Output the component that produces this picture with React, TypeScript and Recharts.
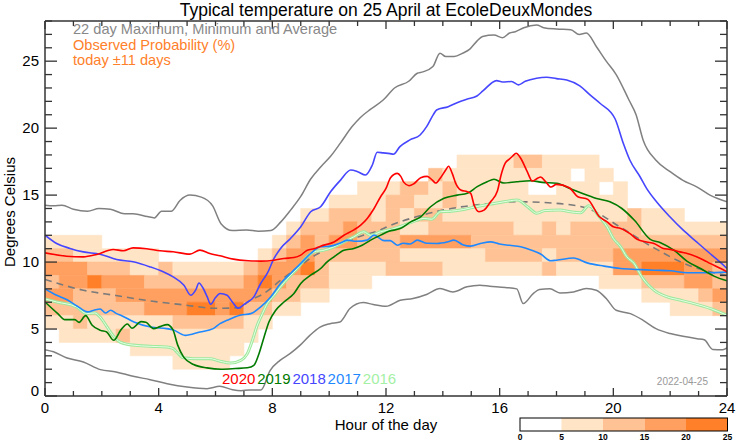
import React from "react";
import { ComposedChart, Line, XAxis, YAxis, ReferenceArea } from "recharts";

const FONT = "'Liberation Sans', Arial, Helvetica, sans-serif";
const AXIS_COLOR = "#333";

// plot frame in page pixels (margins + axis sizes below give the same box)
const PLOT = { left: 45, right: 727, top: 21, bottom: 396 };

// tick positions
const hourTicks = Array.from({ length: 25 }, (_, i) => i);
const degreeTicks = Array.from({ length: 29 }, (_, i) => i);

// probability heatmap: one string per 1 degree row (lower edge in heatBase), 48 half-hour columns, level 0-4
const heatLevelColors = ["#ffffff", "#ffe4c6", "#ffc294", "#ffa060", "#ff8028"];
const heatBase = [17, 16, 15, 14, 13, 12, 11, 10, 9, 8, 7, 6, 5, 4, 3, 2];
const heatRows = [
  "000000000000000000000000000001111221111000000000",
  "000000000000000000000000000211111111101100000000",
  "000000000000000000000011122121111100111010000000",
  "000000000000000000001111221121111111111110000000",
  "000000000000000000112221212211111111111112111000",
  "000000000000000001222322211222222112122222111111",
  "111100000000000012323322233333222222222222222222",
  "221111110000000123322222211111122221222233333333",
  "333222112111112333421111222211111112111133444332",
  "233433322222223432221110000000000000000111222332",
  "332223333333333322110000000000000000000000111123",
  "222222233344342211000000000000000000000000001112",
  "112111111222221100000000000000000000000000000000",
  "011112111111111000000000000000000000000000000000",
  "000000111111110000000000000000000000000000000000",
  "000000000111100000000000000000000000000000000000",
];
const heatStep = 24 / 48;

// 22 day maximum
const maxHours = [0, 0.3, 0.6, 1, 1.5, 1.9, 2.3, 2.8, 3.1, 3.6, 3.85, 4.1, 4.45, 4.75, 5.1, 5.5, 5.9, 6.2, 6.6, 7.1, 7.5, 7.95, 8.3, 8.65, 9, 9.35, 9.7, 10.05, 10.4, 10.8, 11.1, 11.45, 11.9, 12.3, 12.8, 13.1, 13.3, 13.65, 13.9, 14.1, 14.4, 14.7, 14.95, 15.2, 15.4, 15.8, 16.1, 16.35, 16.55, 16.85, 17.3, 17.55, 18, 18.5, 18.8, 19.05, 19.4, 19.75, 20.1, 20.55, 20.8, 21.05, 21.5, 22, 22.45, 22.95, 23.4, 24];
const maxTemps = [14.25, 14.2, 14.25, 13.95, 13.8, 14.0, 13.95, 13.6, 13.6, 13.4, 13.3, 13.8, 13.8, 14.6, 15.0, 14.85, 14.2, 12.85, 12.35, 12.4, 12.3, 12.35, 13.0, 13.9, 14.9, 16.2, 17.1, 17.9, 18.9, 20.1, 20.8, 21.4, 22.1, 23.0, 23.5, 24.1, 24.2, 24.6, 25.6, 25.35, 25.35, 25.6, 25.9, 26.5, 26.85, 26.95, 26.75, 27.1, 27.2, 27.5, 27.7, 27.5, 27.4, 27.35, 27.0, 27.1, 26.1, 25.0, 24.0, 22.1, 21.0, 19.1, 17.6, 16.75, 16.1, 15.6, 15.0, 14.5];

// 22 day minimum
const minHours = [0, 0.3, 0.75, 1.35, 1.95, 2.5, 3.1, 3.7, 4.3, 5, 5.7, 6.15, 6.6, 6.9, 7.2, 7.6, 7.92, 8.27, 8.62, 8.97, 9.32, 9.68, 10.03, 10.38, 10.73, 11.2, 11.55, 12, 12.5, 12.95, 13.45, 13.9, 14.35, 14.85, 15.3, 15.65, 16.2, 16.6, 16.83, 17.18, 17.4, 17.77, 18.12, 18.6, 19.05, 19.4, 19.75, 20.1, 20.6, 21.05, 21.5, 22, 22.45, 22.95, 23.2, 23.5, 23.85, 24];
const minTemps = [3.46, 3.3, 2.86, 2.54, 1.97, 1.8, 1.47, 1.22, 0.92, 0.67, 0.55, 0.72, 0.47, 0.4, 0.45, 0.45, 1.9, 2.66, 3.16, 3.78, 4.53, 5.15, 5.4, 5.53, 6.53, 6.98, 6.83, 6.7, 7.15, 7.28, 7.6, 8.02, 7.77, 8.15, 8.27, 8.2, 8.1, 8.0, 6.9, 7.65, 7.95, 8.0, 7.7, 7.77, 8.02, 7.9, 7.28, 6.4, 6.15, 5.65, 5.03, 4.66, 4.46, 4.28, 4.2, 3.48, 3.46, 3.6];

// 22 day average
const avgHours = [0, 1.35, 2.5, 3.7, 4.9, 6, 6.9, 7.12, 7.7, 8.3, 8.9, 9.5, 10.05, 10.65, 11.2, 11.8, 12, 13.1, 14.3, 15.45, 16.6, 17.9, 19.1, 20.25, 21.4, 22.6, 24];
const avgTemps = [8.7, 7.9, 7.5, 7.1, 6.8, 6.55, 6.6, 7.0, 7.65, 8.65, 9.6, 10.5, 11.1, 11.6, 12.0, 12.4, 12.6, 13.4, 14.0, 14.33, 14.5, 14.4, 14.0, 12.6, 11.1, 9.8, 9.0];

// 2020
const y2020Hours = [0, 0.76, 1.35, 1.82, 2.4, 2.76, 3.1, 3.58, 4.05, 4.51, 5.1, 5.45, 5.8, 6.16, 6.63, 7.15, 7.6, 8.06, 8.41, 8.76, 9, 9.23, 9.47, 9.7, 10.17, 10.52, 10.87, 11.11, 11.34, 11.58, 11.81, 12, 12.16, 12.4, 12.52, 12.63, 12.81, 12.98, 13.22, 13.45, 13.63, 13.75, 13.92, 14.1, 14.2, 14.33, 14.45, 14.63, 14.86, 14.98, 15.1, 15.27, 15.45, 15.68, 15.92, 16.05, 16.2, 16.35, 16.45, 16.58, 16.74, 16.97, 17.15, 17.35, 17.44, 17.62, 17.8, 18, 18.45, 18.75, 19.1, 19.5, 19.78, 20, 20.26, 20.6, 20.84, 21.17, 21.43, 21.76, 22, 22.34, 22.6, 22.93, 23.19, 23.4, 23.78, 24];
const y2020Temps = [10.69, 10.44, 10.39, 10.57, 10.94, 10.84, 11.06, 11.0, 10.84, 10.77, 10.59, 10.89, 10.64, 10.47, 10.22, 10.1, 10.07, 10.14, 10.27, 10.34, 10.52, 10.89, 11.0, 11.19, 11.5, 12.0, 12.4, 12.76, 13.26, 14.0, 14.88, 15.5, 16.3, 16.62, 16.4, 15.95, 15.7, 15.85, 16.3, 16.4, 16.12, 15.9, 16.3, 16.87, 17.15, 16.62, 15.9, 15.38, 15.25, 15.13, 14.26, 13.76, 13.88, 14.5, 15.3, 16.5, 17.4, 17.7, 17.9, 18.12, 17.75, 16.75, 16.05, 16.28, 16.35, 16.0, 15.6, 15.8, 15.55, 14.88, 14.68, 13.4, 13.0, 12.63, 12.51, 12.1, 11.7, 11.5, 11.39, 11.02, 10.95, 10.76, 10.64, 10.39, 10.14, 9.9, 9.52, 9.27];

// 2019
const y2019Hours = [0, 0.45, 0.7, 1.05, 1.2, 1.43, 1.66, 1.95, 2.17, 2.42, 2.66, 2.9, 3.06, 3.38, 3.55, 3.82, 4.05, 4.3, 4.5, 4.67, 4.88, 5.23, 5.7, 6.2, 6.7, 7.12, 7.35, 7.53, 7.71, 7.88, 8.12, 8.41, 8.76, 9, 9.35, 9.7, 9.93, 10.17, 10.52, 10.87, 11.16, 11.46, 11.81, 12.1, 12.5, 12.87, 13.22, 13.57, 14.04, 14.51, 14.86, 15.21, 15.56, 15.8, 16.15, 16.6, 17.09, 17.5, 18, 18.47, 18.94, 19.41, 19.88, 20.3, 20.75, 21.3, 21.66, 22.13, 22.6, 23.07, 23.54, 24];
const y2019Temps = [7.02, 6.15, 5.7, 5.7, 5.5, 6.0, 5.28, 4.9, 4.78, 4.16, 4.9, 5.38, 5.06, 5.55, 5.5, 5.03, 5.18, 5.33, 4.95, 3.8, 2.9, 2.35, 2.1, 2.0, 2.05, 2.11, 2.29, 3.16, 4.41, 5.53, 6.4, 7.02, 7.65, 8.4, 9.02, 9.52, 10.02, 10.39, 10.89, 11.02, 11.26, 11.64, 12.01, 12.3, 12.5, 13.0, 13.38, 14.13, 14.76, 15.0, 15.13, 15.63, 16.0, 16.18, 15.9, 16.0, 16.07, 15.95, 15.88, 15.5, 15.1, 14.75, 14.5, 14.0, 13.1, 11.7, 11.45, 10.89, 10.05, 9.52, 8.95, 8.6];

// 2018
const y2018Hours = [0, 0.41, 0.88, 1.35, 1.94, 2.52, 3.1, 3.7, 4.16, 4.51, 4.89, 5.13, 5.3, 5.42, 5.55, 5.71, 5.83, 6, 6.16, 6.41, 6.6, 6.8, 7.04, 7.35, 7.59, 7.82, 8.06, 8.29, 8.64, 9, 9.35, 9.7, 10.05, 10.4, 10.76, 11, 11.28, 11.52, 11.69, 11.9, 12.14, 12.26, 12.49, 12.84, 13.2, 13.43, 13.66, 13.78, 14.19, 14.5, 14.84, 15.2, 15.42, 15.89, 16.1, 16.42, 16.66, 16.9, 17.3, 17.65, 18, 18.36, 18.82, 19.18, 19.53, 20.06, 20.35, 20.58, 20.94, 21.17, 21.52, 21.99, 22.46, 22.93, 23.4, 23.75, 24];
const y2018Temps = [12.01, 11.39, 11.02, 10.76, 10.59, 10.19, 10.02, 9.64, 9.27, 8.89, 8.27, 7.52, 7.9, 8.44, 8.1, 7.4, 6.85, 7.35, 7.65, 7.52, 7.0, 6.55, 6.9, 7.4, 8.4, 9.15, 10.27, 11.02, 11.76, 12.63, 13.76, 14.13, 15.25, 16.12, 16.87, 16.75, 16.5, 17.25, 18.2, 18.15, 18.1, 18.05, 18.62, 19.12, 19.49, 20.11, 20.99, 21.36, 21.6, 21.9, 22.16, 22.4, 22.8, 23.55, 23.45, 23.48, 23.23, 23.5, 23.73, 23.8, 23.7, 23.6, 23.16, 22.48, 21.86, 20.7, 18.87, 17.62, 16.37, 15.5, 14.5, 13.38, 12.38, 11.51, 10.64, 10.02, 9.52];

// 2017
const y2017Hours = [0, 0.41, 0.76, 1.14, 1.5, 1.72, 1.94, 2.13, 2.31, 2.52, 2.7, 3.13, 3.72, 4.28, 4.5, 4.93, 5.45, 5.92, 6.16, 6.41, 6.86, 7.24, 7.59, 7.94, 8.29, 8.64, 9, 9.35, 9.7, 10.05, 10.4, 10.64, 10.95, 11.34, 11.58, 11.93, 12.15, 12.4, 12.6, 12.85, 13.1, 13.45, 13.8, 14.15, 14.39, 14.7, 14.98, 15.35, 15.68, 16, 16.35, 16.74, 17.1, 17.44, 17.8, 18, 18.6, 19.08, 19.67, 20.26, 20.85, 21.43, 22, 22.6, 23.3, 24];
const y2017Temps = [8.0, 7.52, 7.2, 6.7, 6.28, 6.4, 6.5, 6.2, 6.4, 6.15, 6.0, 5.53, 5.15, 5.03, 4.95, 4.53, 4.78, 5.03, 5.4, 5.65, 6.03, 6.15, 6.65, 7.4, 8.4, 9.15, 9.9, 10.64, 11.14, 11.19, 11.43, 11.64, 11.55, 11.64, 12.01, 11.6, 11.6, 11.26, 11.4, 11.35, 11.64, 11.4, 11.39, 11.5, 11.64, 11.3, 11.19, 11.4, 11.51, 11.35, 11.25, 11.14, 10.9, 10.6, 10.1, 10.14, 10.3, 9.94, 9.7, 9.52, 9.45, 9.39, 9.35, 9.2, 9.2, 9.25];

// 2016
const y2016Hours = [0, 0.41, 1.11, 1.47, 1.75, 1.94, 2.17, 2.4, 2.64, 3.1, 3.7, 4.28, 4.5, 4.63, 4.87, 5.22, 5.8, 6.16, 6.53, 6.89, 7.12, 7.3, 7.47, 7.65, 7.82, 8.06, 8.29, 8.59, 8.88, 9.17, 9.47, 9.82, 10.17, 10.52, 10.87, 11.22, 11.45, 11.81, 12.2, 12.87, 13.34, 13.6, 13.92, 14.3, 14.74, 15.2, 15.68, 16.15, 16.62, 17, 17.3, 17.6, 18.12, 18.5, 18.85, 19.13, 19.5, 19.78, 20, 20.26, 20.47, 20.73, 21, 21.43, 21.9, 22.37, 22.84, 23.42, 24];
const y2016Temps = [7.25, 7.02, 6.65, 6.15, 6.2, 5.9, 5.2, 4.5, 4.03, 3.8, 3.71, 3.66, 3.55, 3.3, 2.85, 2.79, 2.79, 2.6, 2.46, 2.66, 3.16, 4.16, 5.28, 6.15, 6.9, 7.52, 8.15, 8.89, 9.52, 10.27, 10.76, 10.89, 11.14, 11.51, 11.89, 12.26, 12.0, 12.26, 12.45, 12.94, 13.26, 13.2, 13.76, 13.8, 13.93, 14.15, 14.33, 14.5, 14.63, 14.1, 13.65, 13.85, 13.88, 13.75, 13.68, 14.2, 13.4, 12.63, 11.76, 11.14, 10.4, 9.9, 8.9, 7.9, 7.4, 7.15, 6.9, 6.53, 6.03];

const yearLabels = ["2020", "2019", "2018", "2017", "2016"];
const yearColors = ["#ff0000", "#007a00", "#4646ff", "#1e88ff", "#a4f0a4"];
const colorbarTicks = [0, 5, 10, 15, 20, 25];

function toPoints(hours: number[], temps: number[]) {
  return hours.map((h, i) => ({ h, v: temps[i] }));
}

function buildHeatCells() {
  const cells: { x1: number; x2: number; y1: number; y2: number; color: string }[] = [];
  heatRows.forEach((row, r) => {
    const low = heatBase[r];
    let c = 0;
    while (c < row.length) {
      const lvl = row[c];
      let e = c + 1;
      while (e < row.length && row[e] === lvl) e++;
      if (lvl !== "0") {
        cells.push({ x1: c * heatStep, x2: e * heatStep, y1: low, y2: low + 1, color: heatLevelColors[Number(lvl)] });
      }
      c = e;
    }
  });
  return cells;
}

const BottomLabel = (p: any) => {
  const v = p.payload.value;
  if (v % 4 !== 0) return <g />;
  return (
    <text x={p.x} y={p.y + 17} textAnchor="middle" fontSize={15} fontFamily={FONT} fill="#000">
      {v}
    </text>
  );
};

const LeftLabel = (p: any) => {
  const v = p.payload.value;
  if (v % 5 !== 0) return <g />;
  return (
    <text x={p.x - 6} y={v === 0 ? p.y : p.y + 5} textAnchor="end" fontSize={15} fontFamily={FONT} fill="#000">
      {v}
    </text>
  );
};

// inward tick marks on all four sides of the frame
function FrameTicks() {
  const w = PLOT.right - PLOT.left;
  const h = PLOT.bottom - PLOT.top;
  const marks: React.ReactNode[] = [];
  hourTicks.forEach((t) => {
    const x = PLOT.left + (t / 24) * w;
    const len = t % 4 === 0 ? 8 : 5;
    marks.push(<line key={"b" + t} x1={x} x2={x} y1={PLOT.bottom} y2={PLOT.bottom - len} />);
    marks.push(<line key={"t" + t} x1={x} x2={x} y1={PLOT.top} y2={PLOT.top + len} />);
  });
  degreeTicks.forEach((d) => {
    const y = PLOT.bottom - (d / 28) * h;
    const len = d % 5 === 0 ? 12 : 7;
    marks.push(<line key={"l" + d} x1={PLOT.left} x2={PLOT.left + len} y1={y} y2={y} />);
    marks.push(<line key={"r" + d} x1={PLOT.right} x2={PLOT.right - len} y1={y} y2={y} />);
  });
  return (
    <g stroke={AXIS_COLOR} strokeWidth={1.3}>
      {marks}
    </g>
  );
}

export default function App() {
  const cells = buildHeatCells();
  const axisLine = { stroke: AXIS_COLOR, strokeWidth: 1.5 };
  const lineProps = { type: "monotone" as const, dataKey: "v", dot: false, isAnimationActive: false, activeDot: false };

  return (
    <div style={{ position: "absolute", left: 0, top: 0, width: 742, height: 445, background: "#fff" }}>
      <ComposedChart width={742} height={445} margin={{ top: 20, right: 14, bottom: 19, left: 5 }}>
        <XAxis type="number" dataKey="h" domain={[0, 24]} ticks={hourTicks} interval={0} height={30}
          tickSize={0} tickMargin={0} tick={BottomLabel} tickLine={false} axisLine={axisLine} allowDataOverflow />
        <XAxis xAxisId="top" orientation="top" type="number" dataKey="h" domain={[0, 24]} ticks={hourTicks} interval={0}
          height={1} tick={false} tickLine={false} axisLine={axisLine} allowDataOverflow />
        <YAxis type="number" domain={[0, 28]} ticks={degreeTicks} interval={0} width={40}
          tickSize={0} tickMargin={0} tick={LeftLabel} tickLine={false} axisLine={axisLine} allowDataOverflow />
        <YAxis yAxisId="right" orientation="right" type="number" domain={[0, 28]} ticks={degreeTicks} interval={0} width={1}
          tick={false} tickLine={false} axisLine={axisLine} allowDataOverflow />

        {cells.map((c, i) => (
          <ReferenceArea key={"cell" + i} x1={c.x1} x2={c.x2} y1={c.y1} y2={c.y2}
            fill={c.color} fillOpacity={1} stroke={c.color} strokeWidth={0.6} ifOverflow="visible" />
        ))}

        <Line {...lineProps} data={toPoints(maxHours, maxTemps)} stroke="#808080" strokeWidth={1.5} />
        <Line {...lineProps} data={toPoints(minHours, minTemps)} stroke="#808080" strokeWidth={1.5} />
        <Line {...lineProps} data={toPoints(avgHours, avgTemps)} stroke="#7a7a7a" strokeWidth={1.6} strokeDasharray="7 5" />
        <Line {...lineProps} data={toPoints(y2016Hours, y2016Temps)} stroke="#9ee89e" strokeWidth={3} />
        <Line {...lineProps} data={toPoints(y2016Hours, y2016Temps)} stroke="#e4ffe4" strokeWidth={1} />
        <Line {...lineProps} data={toPoints(y2017Hours, y2017Temps)} stroke="#1e88ff" strokeWidth={1.6} />
        <Line {...lineProps} data={toPoints(y2018Hours, y2018Temps)} stroke="#4646ff" strokeWidth={1.6} />
        <Line {...lineProps} data={toPoints(y2019Hours, y2019Temps)} stroke="#007a00" strokeWidth={1.6} />
        <Line {...lineProps} data={toPoints(y2020Hours, y2020Temps)} stroke="#ff0000" strokeWidth={1.6} />
      </ComposedChart>

      <svg width={742} height={445} style={{ position: "absolute", left: 0, top: 0, pointerEvents: "none" }} fontFamily={FONT}>
        <FrameTicks />
        <text x={386} y={16} textAnchor="middle" fontSize={17.5} fill="#000">
          Typical temperature on 25 April at EcoleDeuxMondes
        </text>
        <text x={73} y={34} fontSize={14.6} fill="#888">22 day Maximum, Minimum and Average</text>
        <text x={73} y={49.5} fontSize={14.6} fill="#ff7f2a">Observed Probability (%)</text>
        <text x={73} y={65} fontSize={14.6} fill="#ff7f2a">today ±11 days</text>
        <text transform="translate(15,212) rotate(-90)" textAnchor="middle" fontSize={15} fill="#000">
          Degrees Celsius
        </text>
        <text x={386} y={430} textAnchor="middle" fontSize={15} fill="#000">Hour of the day</text>
        {yearLabels.map((lab, i) => (
          <text key={lab} x={222 + i * 35.2} y={384} fontSize={15} fill={yearColors[i]}>{lab}</text>
        ))}
        <text x={708} y={385} textAnchor="end" fontSize={10} fill="#999">2022-04-25</text>
        {heatLevelColors.map((col, i) => (
          <rect key={col} x={520 + i * 41.5} y={418} width={41.5} height={13} fill={col} />
        ))}
        <rect x={520} y={418} width={207.5} height={13} fill="none" stroke="#000" strokeWidth={1} />
        {colorbarTicks.map((t, i) => (
          <text key={t} x={520 + i * 41.5} y={440} textAnchor="middle" fontSize={8.5} fontWeight="bold" fill="#000">{t}</text>
        ))}
      </svg>
    </div>
  );
}
